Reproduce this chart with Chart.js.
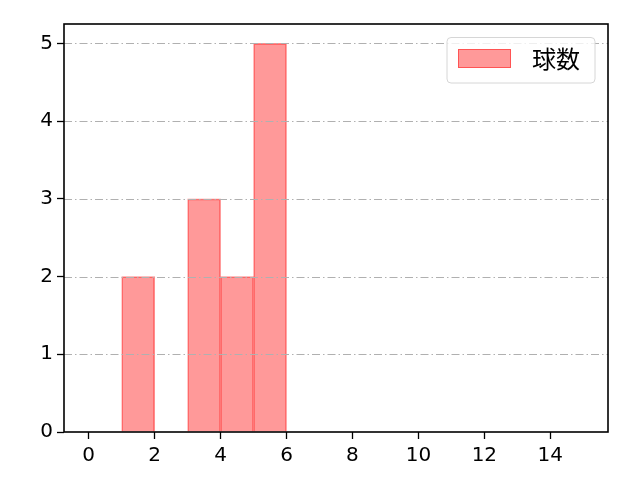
<!DOCTYPE html>
<html><head><meta charset="utf-8">
<script src="https://cdn.jsdelivr.net/npm/chart.js@4"></script>
<style>html,body{margin:0;padding:0;background:#fff}#w{width:640px;height:480px}</style>
</head><body><div id="w"><canvas id="c" width="640" height="480"></canvas></div>
<script>
const seriesLabel = '球数';
const binStarts = [1, 3, 4, 5];
const binWidth = 1;
const counts = [2, 3, 2, 5];
const xTicks = [0, 2, 4, 6, 8, 10, 12, 14];
const yTicks = [0, 1, 2, 3, 4, 5];

const FONT = '"DejaVu Sans", "Noto Sans CJK JP", sans-serif';
const CJK = '"Noto Sans CJK JP", sans-serif';

const overlay = {
  id: 'overlay',
  afterDatasetsDraw(chart) {
    const ctx = chart.ctx, a = chart.chartArea, ys = chart.scales.y;
    ctx.save();
    ctx.strokeStyle = '#b0b0b0';
    ctx.lineWidth = 1;
    ctx.setLineDash([8, 3, 1.5, 3]);
    yTicks.forEach(v => {
      if (v === 0) return;
      const p = Math.round(ys.getPixelForValue(v)) + 0.5;
      ctx.beginPath(); ctx.moveTo(a.left, p); ctx.lineTo(a.right, p); ctx.stroke();
    });
    ctx.restore();
  },
  afterDraw(chart) {
    const ctx = chart.ctx, a = chart.chartArea;
    ctx.save();
    ctx.strokeStyle = '#000';
    ctx.lineWidth = 1.6;
    ctx.strokeRect(a.left, a.top, a.right - a.left, a.bottom - a.top);
    // legend
    const lx = 447, ly = 37.5, lw = 148, lh = 45.5, r = 4;
    ctx.beginPath();
    ctx.moveTo(lx + r, ly); ctx.lineTo(lx + lw - r, ly); ctx.arcTo(lx + lw, ly, lx + lw, ly + r, r);
    ctx.lineTo(lx + lw, ly + lh - r); ctx.arcTo(lx + lw, ly + lh, lx + lw - r, ly + lh, r);
    ctx.lineTo(lx + r, ly + lh); ctx.arcTo(lx, ly + lh, lx, ly + lh - r, r);
    ctx.lineTo(lx, ly + r); ctx.arcTo(lx, ly, lx + r, ly, r);
    ctx.closePath();
    ctx.fillStyle = 'rgba(255,255,255,0.8)';
    ctx.fill();
    ctx.strokeStyle = '#d6d6d6';
    ctx.lineWidth = 1;
    ctx.stroke();
    ctx.fillStyle = 'rgba(255,0,0,0.4)';
    ctx.fillRect(458, 49, 53, 19);
    ctx.strokeStyle = 'rgba(255,0,0,0.45)';
    ctx.strokeRect(458.5, 49.5, 52, 18);
    ctx.fillStyle = '#000';
    ctx.font = '24px ' + CJK;
    ctx.textBaseline = 'middle';
    ctx.textAlign = 'left';
    ctx.fillText(chart.data.datasets[0].label, 532, 59);
    ctx.restore();
  }
};

new Chart(document.getElementById('c'), {
  type: 'bar',
  data: {
    datasets: [{
      label: seriesLabel,
      data: binStarts.map((s, i) => ({ x: s + binWidth / 2, y: counts[i] })),
      backgroundColor: 'rgba(255,0,0,0.4)',
      borderColor: 'rgba(255,0,0,0.45)',
      borderWidth: 1,
      barPercentage: 1,
      categoryPercentage: 1,
      grouped: false
    }]
  },
  options: {
    responsive: false,
    animation: false,
    devicePixelRatio: 1,
    layout: { padding: { top: 24, right: 32, left: 0, bottom: 0 } },
    plugins: { legend: { display: false }, tooltip: { enabled: false } },
    scales: {
      x: {
        type: 'linear', min: -0.75, max: 15.75, offset: false,
        afterBuildTicks: s => { s.ticks = xTicks.map(v => ({ value: v })); },
        afterFit: s => { s.height = 48; },
        grid: { offset: false, drawOnChartArea: false, tickLength: 7, tickColor: '#000', tickWidth: 1.3, color: '#000' },
        border: { display: false },
        ticks: { color: '#000', font: { size: 20, family: FONT }, padding: 5, maxRotation: 0, autoSkip: false }
      },
      y: {
        type: 'linear', min: 0, max: 5.25,
        afterBuildTicks: s => { s.ticks = yTicks.map(v => ({ value: v })); },
        afterFit: s => { s.width = 64; },
        grid: { drawOnChartArea: false, tickLength: 7, tickColor: '#000', tickWidth: 1.3, color: '#000' },
        border: { display: false },
        ticks: { color: '#000', font: { size: 20, family: FONT }, padding: 4, autoSkip: false }
      }
    }
  },
  plugins: [overlay]
});
</script></body></html>
